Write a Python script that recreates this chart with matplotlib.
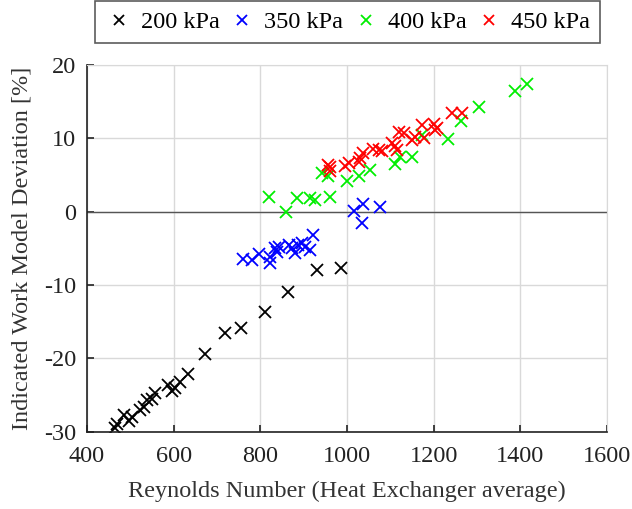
import numpy as np
import matplotlib
matplotlib.use("Agg")
import matplotlib.pyplot as plt

plt.rcParams['font.family'] = ['Liberation Serif', 'DejaVu Serif']
plt.rcParams['axes.unicode_minus'] = False

# data
re_200 = [465, 470, 485, 496, 503, 523, 531, 538, 550, 558, 588, 596, 604, 615,
          632, 673, 719, 756, 810, 863, 931, 985]
dev_200 = [-29.5, -29.0, -27.7, -28.6, -28.0, -27.0, -26.6, -25.7, -25.5, -24.8,
           -23.6, -24.5, -24.1, -23.2, -22.1, -19.4, -16.6, -15.9, -13.7, -11.0,
           -8.0, -7.7]

re_350 = [760, 781, 796, 823, 823, 834, 838, 842, 865, 873, 881, 888, 896, 904,
          915, 921, 1017, 1038, 1075, 1034]
dev_350 = [-6.4, -6.6, -5.8, -6.2, -7.0, -5.0, -5.5, -4.8, -4.5, -5.0, -5.7, -4.5,
           -4.3, -4.8, -5.2, -3.2, 0.1, 1.0, 0.6, -1.6]

re_400 = [819, 860, 885, 915, 927, 961, 942, 957, 1000, 1027, 1054, 1111, 1123,
          1150, 1173, 1234, 1263, 1304, 1387, 1415]
dev_400 = [2.0, -0.1, 1.8, 1.8, 1.6, 2.0, 5.2, 4.8, 4.2, 4.8, 5.7, 6.5, 7.5,
           7.5, 10.5, 9.9, 12.3, 14.2, 16.4, 17.4]

re_450 = [957, 961, 961, 996, 1004, 1027, 1031, 1038, 1061, 1073, 1081, 1104,
          1111, 1115, 1119, 1131, 1150, 1158, 1173, 1177, 1200, 1204, 1208, 1242,
          1266]
dev_450 = [6.4, 6.1, 5.5, 6.2, 6.6, 6.8, 7.3, 8.0, 8.6, 8.4, 8.2, 9.3, 8.9, 8.4,
           10.9, 10.7, 9.8, 10.2, 11.8, 10.0, 12.0, 11.1, 11.4, 13.4, 13.4]

fig = plt.figure(figsize=(6.32, 5.09), dpi=100)
ax = fig.add_axes([0.1377, 0.152, 0.8228, 0.7205])

ms = 9
mw = 1.3
ax.plot(re_200, dev_200, 'x', color='black', ms=ms, mew=mw, label='200 kPa')
ax.plot(re_350, dev_350, 'x', color='blue', ms=ms, mew=mw, label='350 kPa')
ax.plot(re_400, dev_400, 'x', color='#00ee00', ms=ms, mew=mw, label='400 kPa')
ax.plot(re_450, dev_450, 'x', color='red', ms=ms, mew=mw, label='450 kPa')

ax.axhline(0, color='#555555', lw=1.0, zorder=1)

ax.set_xlim(400, 1600)
ax.set_ylim(-30, 20)
ax.set_xticks(np.arange(400, 1601, 200))
ax.set_yticks(np.arange(-30, 21, 10))
ax.grid(True, color='#d9d9d9', lw=1.0)
ax.set_axisbelow(True)
ax.tick_params(direction='in', labelsize=17.5, length=5, width=1.2,
               color='#222222', labelcolor='#222222')
ax.tick_params(axis='x', pad=10)
ax.tick_params(axis='y', pad=8)
for s in ['top', 'right']:
    ax.spines[s].set_color('#d9d9d9')
for s in ['left', 'bottom']:
    ax.spines[s].set_linewidth(1.2)
    ax.spines[s].set_color('#222222')

ax.set_xlabel('Reynolds Number (Heat Exchanger average)', fontsize=17.5,
              color='#333333', labelpad=10)
ax.set_ylabel('Indicated Work Model Deviation [%]', fontsize=17.5,
              color='#333333', labelpad=8)

leg = fig.legend(loc='center', ncol=4, mode='expand',
                 bbox_to_anchor=(0.150, 0.921, 0.799, 0.071),
                 fontsize=17.5, frameon=True, fancybox=False,
                 handletextpad=0.3, columnspacing=0.8, markerscale=0.85,
                 handlelength=1.2, borderaxespad=0)
leg.get_frame().set_edgecolor('#333333')
leg.get_frame().set_linewidth(1.2)

fig.savefig('out.png', dpi=100)
